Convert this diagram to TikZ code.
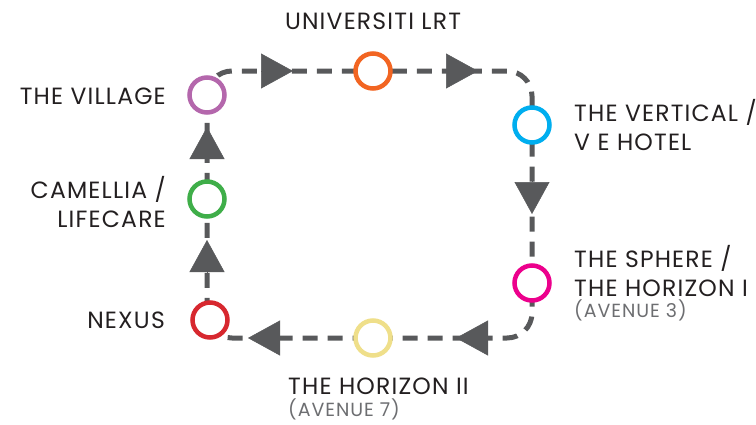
\documentclass[tikz,border=0pt]{standalone}
\usepackage{fontspec}
\setmainfont[LetterSpace=5]{Poppins}
\usetikzlibrary{arrows.meta, backgrounds}

\definecolor{routegray}{HTML}{58595B}
\definecolor{textblack}{HTML}{231F20}
\definecolor{notegray}{HTML}{6D6E71}
\definecolor{villagepurple}{HTML}{B467AC}
\definecolor{lrtorange}{HTML}{F26522}
\definecolor{verticalcyan}{HTML}{00AEEF}
\definecolor{spheremagenta}{HTML}{EC008C}
\definecolor{horizonyellow}{HTML}{EFDF8A}
\definecolor{nexusred}{HTML}{D7282F}
\definecolor{camelliagreen}{HTML}{3FAE49}

\tikzset{
  station/.style={circle, draw=#1, line width=4.5pt, fill=white, minimum size=35pt, inner sep=0pt},
  route/.style={draw=routegray, line width=5pt, dash pattern=on 15pt off 10pt, rounded corners=25pt},
  flowtip/.style={draw=routegray, fill=routegray, line width=0.5pt, -{Triangle[length=32pt,width=35pt]}},
  stop/.style={font=\fontsize{23.5}{29}\selectfont, text=textblack, inner sep=0pt}
}
\newcommand{\avenue}[1]{{\color{notegray}\fontsize{19}{22}\selectfont #1}}

\begin{document}
\begin{tikzpicture}[x=1pt,y=-1pt]
\useasboundingbox (0,0) rectangle (756,424);
% Stations
\node[station=villagepurple] (village) at (207,95) {};
\node[station=lrtorange] (lrt) at (373,71) {};
\node[station=verticalcyan] (vertical) at (532,125) {};
\node[station=spheremagenta] (sphere) at (532,283) {};
\node[station=horizonyellow] (horizon) at (373,338) {};
\node[station=nexusred] (nexus) at (210,320) {};
\node[station=camelliagreen] (camellia) at (207,199) {};
% Route and direction
\begin{scope}[on background layer]
\draw[route] (village.center) |- (lrt.center) -| (vertical.center) -- (sphere.center)
  |- (horizon.center) -| (camellia.center) -- (village.center);
\draw[flowtip] (261,71) -- (293,71);
\draw[flowtip] (446,71) -- (478,71);
\draw[flowtip] (532,181) -- (532,214);
\draw[flowtip] (489,338) -- (456,338);
\draw[flowtip] (281,338) -- (248,338);
\draw[flowtip] (207,273) -- (207,240);
\draw[flowtip] (207,160) -- (207,127);
\end{scope}
% Names
\node[stop, anchor=base] (lrtname) at (373,29) {UNIVERSITI LRT};
\node[stop, anchor=base east] (villagename) at (166,104) {THE VILLAGE};
\node[stop, anchor=east, align=right] (camellianame) at (166,202) {CAMELLIA /\\LIFECARE};
\node[stop, anchor=base east] (nexusname) at (165,328) {NEXUS};
\node[stop, anchor=west, align=left] (verticalname) at (574,125) {THE VERTICAL /\\V E HOTEL};
\node[stop, anchor=west, align=left] (spherename) at (574,283)
  {THE SPHERE /\\THE HORIZON I\\[-8pt]\avenue{(AVENUE 3)}};
\node[stop, anchor=north west, align=left] (horizonname) at (288,378)
  {THE HORIZON II\\[-7pt]\avenue{(AVENUE 7)}};
\end{tikzpicture}
\end{document}
